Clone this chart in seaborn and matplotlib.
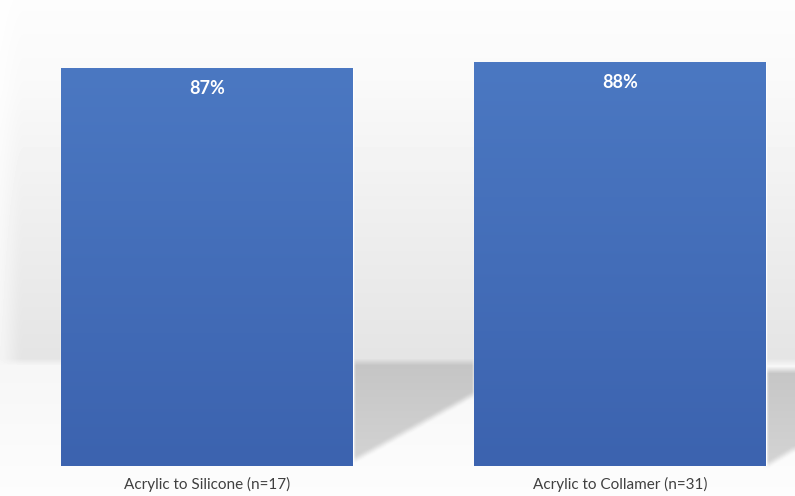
import numpy as np
import pandas as pd
import matplotlib
matplotlib.use("Agg")
import matplotlib.pyplot as plt
from matplotlib.colors import LinearSegmentedColormap
import seaborn as sns

# Share of eyes per exchange group
categories = ["Acrylic to Silicone (n=17)", "Acrylic to Collamer (n=31)"]
values = [87, 88]
value_labels = ["87%", "88%"]

W, H, DPI = 795, 496, 100
sns.set_theme(style="white")
plt.rcParams["font.family"] = ["Lato", "Liberation Sans", "DejaVu Sans"]

fig = plt.figure(figsize=(W / DPI, H / DPI), dpi=DPI)

# --- backdrop: soft grey wall, pale floor and cast shadows (pixel grid) ---
yy, xx = np.mgrid[0:H, 0:W].astype(float)
wall = np.interp(yy, [0, 90, 200, 360], [0.99, 0.975, 0.94, 0.895])
floor = np.interp(yy, [362, 496], [0.965, 0.99])
bg = np.where(yy < 362, wall, floor)
# fade the wall towards the far left edge
bg = np.where(yy < 362, bg + (1 - bg) * np.clip((20 - xx) / 20, 0, 1) * 0.6, bg)
# shadow right of the first bar
s1 = (xx >= 353) & (xx <= 474) & (yy >= 362) & (yy <= 460 - (xx - 353) * 0.55)
# shadow right of the second bar
s2 = (xx >= 766) & (yy >= 370) & (yy <= 465 - (xx - 766) * 0.6)
shade = np.interp(yy, [362, 470], [0.77, 0.83])
bg = np.where(s1 | s2, shade, bg)

def box_blur(a, r):
    k = np.ones(2 * r + 1) / (2 * r + 1)
    a = np.apply_along_axis(lambda v: np.convolve(np.pad(v, r, mode="edge"), k, "valid"), 0, a)
    a = np.apply_along_axis(lambda v: np.convolve(np.pad(v, r, mode="edge"), k, "valid"), 1, a)
    return a

bg = box_blur(bg, 3)
bax = fig.add_axes([0, 0, 1, 1], zorder=0)
bax.imshow(bg, cmap="gray", vmin=0, vmax=1, extent=(0, W, H, 0), aspect="auto",
           interpolation="bilinear")
bax.set_axis_off()

# --- bar chart ---
ax = fig.add_axes([0, 30 / H, 1, 466 / H], zorder=1)
ax.patch.set_alpha(0)
df = pd.DataFrame({"group": categories, "pct": values})
sns.barplot(data=df, x="group", y="pct", color="#4470BE", width=0.707,
            saturation=1, ax=ax)

ymin = 20.5
scale = 398 / (87 - ymin)  # pixels per percentage point
ylim = (ymin, ymin + 466 / scale)
xlim = (-207 / 413, 588 / 413)

# vertical shading inside the visible part of each bar
grad = LinearSegmentedColormap.from_list("bar", ["#3C63AF", "#4B78C2"])
for p in list(ax.patches):
    x0 = p.get_x()
    top = p.get_y() + p.get_height()
    ax.imshow(np.linspace(0, 1, 256).reshape(-1, 1), cmap=grad,
              extent=(x0, x0 + p.get_width(), ylim[0], top),
              origin="lower", aspect="auto", zorder=p.get_zorder() + 0.1)
ax.set_ylim(*ylim)
ax.set_xlim(*xlim)

for i, (v, lab) in enumerate(zip(values, value_labels)):
    ax.annotate(lab, xy=(i, v), xytext=(0, -14.5), textcoords="offset points",
                ha="center", va="center", color="white", fontsize=13,
                fontweight="bold", zorder=5)

ax.set_xlabel("")
ax.set_ylabel("")
ax.set_yticks([])
ax.tick_params(axis="x", length=0, pad=8, labelsize=11, labelcolor="#404040")
for s in ax.spines.values():
    s.set_visible(False)

fig.savefig("out.png", dpi=DPI)
